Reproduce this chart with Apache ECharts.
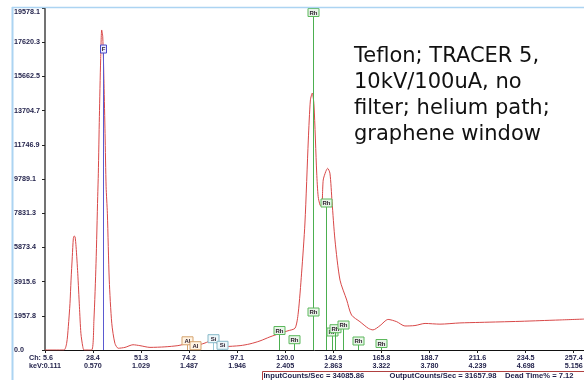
<!DOCTYPE html>
<html><head><meta charset="utf-8">
<script src="https://cdn.jsdelivr.net/npm/echarts@6/dist/echarts.min.js"></script>
<style>html,body{margin:0;padding:0;background:#fff;}#c{width:584px;height:380px;}</style>
</head><body><div id="c"></div>
<script>
// Spectrum: channel vs counts
const channels = [5.6, 14.6, 15.9, 16.7, 17.5, 18.0, 18.6, 19.1, 19.5, 19.9, 20.4, 21.2, 22.0, 22.7, 23.6, 24.2,
  27.8, 28.9, 29.9, 30.7, 31.0, 31.5, 32.1, 32.6, 33.1, 33.7, 34.2, 34.7, 35.3, 36.2, 37.4, 38.9, 40.5,
  43.7, 47.5, 50.8, 55.6, 62.7, 68.9, 73.2, 77.0, 81.8, 85.1, 88.0, 91.3, 98.5, 103.2, 108.0, 112.7, 117.5, 121.3, 124.7,
  126.2, 127.8, 129.4, 131.0, 132.0, 132.9, 133.7, 135.0, 135.7, 136.6, 137.4, 138.1, 139.3, 140.2, 141.3, 142.3, 143.7,
  146.1, 149.3, 151.6, 155.6, 159.6, 161.8, 165.2, 169.0, 173.1, 177.0, 181.8, 186.6, 193.7, 203.2, 212.7, 222.3, 231.8, 241.3, 250.8, 262.3];
const counts = [0, 0, 380, 1330, 2670, 4000, 5340, 6390, 6520, 6490, 5910, 4390, 2480, 955, 190, 0,
  0, 1720, 4960, 8780, 10120, 13360, 16600, 18320, 17940, 15270, 12400, 9350, 7830, 4010, 1530, 380, 100,
  150, 300, 250, 150, 180, 250, 350, 250, 400, 550, 350, 200, 250, 350, 520, 750, 950, 1100, 1250,
  2120, 4400, 7270, 12020, 14310, 14710, 14030, 10130, 8780, 8300, 8200, 9730, 10210, 10400, 10120, 8500, 6300,
  4000, 2860, 2000, 1620, 1240, 1150, 1400, 1750, 1620, 1375, 1400, 1520, 1480, 1550, 1580, 1610, 1640, 1680, 1720, 1770];

// Axis ticks
const xTickCh = [5.6, 28.4, 51.3, 74.2, 97.1, 120.0, 142.9, 165.8, 188.7, 211.6, 234.5, 257.4];
const xTickChLabels = ['5.6', '28.4', '51.3', '74.2', '97.1', '120.0', '142.9', '165.8', '188.7', '211.6', '234.5', '257.4'];
const xTickKeV = ['0.111', '0.570', '1.029', '1.487', '1.946', '2.405', '2.863', '3.322', '3.780', '4.239', '4.698', '5.156'];
const yTickLabels = ['0.0', '1957.8', '3915.6', '5873.4', '7831.3', '9789.1', '11746.9', '13704.7', '15662.5', '17620.3', '19578.1'];
const yMax = 19578.1;

// Element line markers: element, channel, label level (counts)
const markerElements = ['F', 'Rh', 'Rh', 'Rh', 'Rh', 'Rh', 'Rh', 'Rh', 'Rh', 'Rh', 'Rh', 'Al', 'Al', 'Si', 'Si'];
const markerCh =       [33.4, 133.0, 133.0, 139.6, 142.3, 143.7, 147.7, 154.6, 165.6, 117.0, 124.2, 73.2, 76.8, 85.4, 90.1];
const markerLevel =    [17230, 19320, 2175, 8415, 1030, 1220, 1430, 515, 372, 1116, 590, 527, 246, 647, 270];

// Status bar and note
const statNames = ['InputCounts/Sec', 'OutputCounts/Sec', 'Dead Time%'];
const statValues = ['34085.86', '31657.98', '7.12'];
const noteLines = ['Teflon; TRACER 5,', '10kV/100uA, no', 'filter; helium path;', 'graphene window'];

const markerStyle = {
  F:  {border: '#4a4ac8', fill: '#ececff', line: '#5a5ad0', lw: 1},
  Rh: {border: '#5cb85c', fill: '#e8f5e8', line: '#4caf50', lw: 1},
  Al: {border: '#d6a36e', fill: '#fff4e4', line: '#d6a36e', lw: 1},
  Si: {border: '#86b8c8', fill: '#eef8fb', line: '#98c8d8', lw: 1}
};

const labelColor = '#1e1e48';
const lblFont = {fontFamily: 'Liberation Sans', fontWeight: 'bold', fontSize: 7.2, color: labelColor};
const chart = echarts.init(document.getElementById('c'), null, {renderer: 'canvas'});

const statX = [263.5, 389.5, 505];
const graphics = [
  {type: 'line', shape: {x1: 12.5, y1: 7, x2: 12.5, y2: 380}, style: {stroke: '#acd4f2', lineWidth: 2}, z: 100},
  {type: 'line', shape: {x1: 12, y1: 7.5, x2: 584, y2: 7.5}, style: {stroke: '#acd4f2', lineWidth: 1.5}, z: 100},
  {type: 'rect', shape: {x: 262.5, y: 371.5, width: 330, height: 20}, style: {fill: 'none', stroke: '#b04040', lineWidth: 1}, z: 100}
];
statNames.forEach((n, i) => {
  graphics.push({type: 'text', x: statX[i], y: 376, z: 101,
    style: {text: n + ' = ' + statValues[i], font: 'bold 7.6px "Liberation Sans"', fill: labelColor, verticalAlign: 'middle', align: 'left'}});
});
graphics.push({type: 'text', x: 354, y: 43.5, z: 101,
  style: {text: noteLines.join('\n'), font: '21px "DejaVu Sans"', lineHeight: 26, fill: '#111', verticalAlign: 'top', align: 'left'}});

chart.setOption({
  animation: false,
  backgroundColor: '#fff',
  grid: {left: 45, right: 0, top: 8, bottom: 30, containLabel: false, outerBoundsMode: 'none'},
  xAxis: {
    type: 'value', min: 5.6, max: 262.3,
    axisLine: {show: true, onZero: false, lineStyle: {color: '#111', width: 1}},
    splitLine: {show: false},
    axisTick: {show: true, customValues: xTickCh, length: 3, lineStyle: {color: '#222'}},
    axisLabel: {
      customValues: xTickCh, margin: 4,
      formatter: function (v) {
        let i = 0, best = 1e9;
        xTickCh.forEach((c, k) => { const d = Math.abs(c - v); if (d < best) { best = d; i = k; } });
        if (i === 0) return '{f|Ch: ' + xTickChLabels[0] + '}\n{f|keV:' + xTickKeV[0] + '}';
        return '{a|' + xTickChLabels[i] + '}\n{a|' + xTickKeV[i] + '}';
      },
      rich: {
        a: Object.assign({lineHeight: 8, align: 'center'}, lblFont),
        f: Object.assign({lineHeight: 8, align: 'left'}, lblFont)
      }
    }
  },
  yAxis: {
    type: 'value', min: 0, max: yMax, interval: yMax / 10,
    axisLine: {show: true, lineStyle: {color: '#444', width: 1.5}},
    splitLine: {show: false},
    axisTick: {show: true, length: 3, lineStyle: {color: '#222'}},
    axisLabel: {
      align: 'left', margin: 31,
      formatter: function (v) {
        const i = Math.round(v / (yMax / 10));
        if (i === 10) return '{t|' + yTickLabels[i] + '}';
        return '{a|' + yTickLabels[i] + '}';
      },
      rich: {
        a: Object.assign({}, lblFont),
        t: Object.assign({padding: [9, 0, 0, 0]}, lblFont)
      }
    }
  },
  series: [
    {
      type: 'line', data: channels.map((c, i) => [c, counts[i]]),
      symbol: 'none', smooth: 0.25, lineStyle: {color: '#d84848', width: 1}, z: 3, clip: true
    },
    {
      type: 'custom', z: 5, clip: false,
      data: markerCh.map((c, i) => [c, markerLevel[i]]),
      renderItem: function (params, api) {
        const idx = params.dataIndex;
        const el = markerElements[idx];
        const st = markerStyle[el];
        const p = api.coord([api.value(0), api.value(1)]);
        const b = api.coord([api.value(0), 0]);
        const w = el === 'F' ? 6 : 11, h = 8;
        const x = Math.round(p[0]) + 0.5;
        return {type: 'group', children: [
          {type: 'line', shape: {x1: x, y1: p[1] + h / 2, x2: x, y2: b[1]}, style: {stroke: st.line, lineWidth: st.lw}},
          {type: 'rect', shape: {x: x - w / 2, y: p[1] - h / 2, width: w, height: h}, style: {fill: st.fill, stroke: st.border, lineWidth: 1}},
          {type: 'text', style: {text: el, x: x, y: p[1] + 0.5, align: 'center', verticalAlign: 'middle', font: 'bold 6px "Liberation Sans"', fill: '#2a1a2a'}}
        ]};
      }
    }
  ],
  graphic: graphics
});
</script>
</body></html>
